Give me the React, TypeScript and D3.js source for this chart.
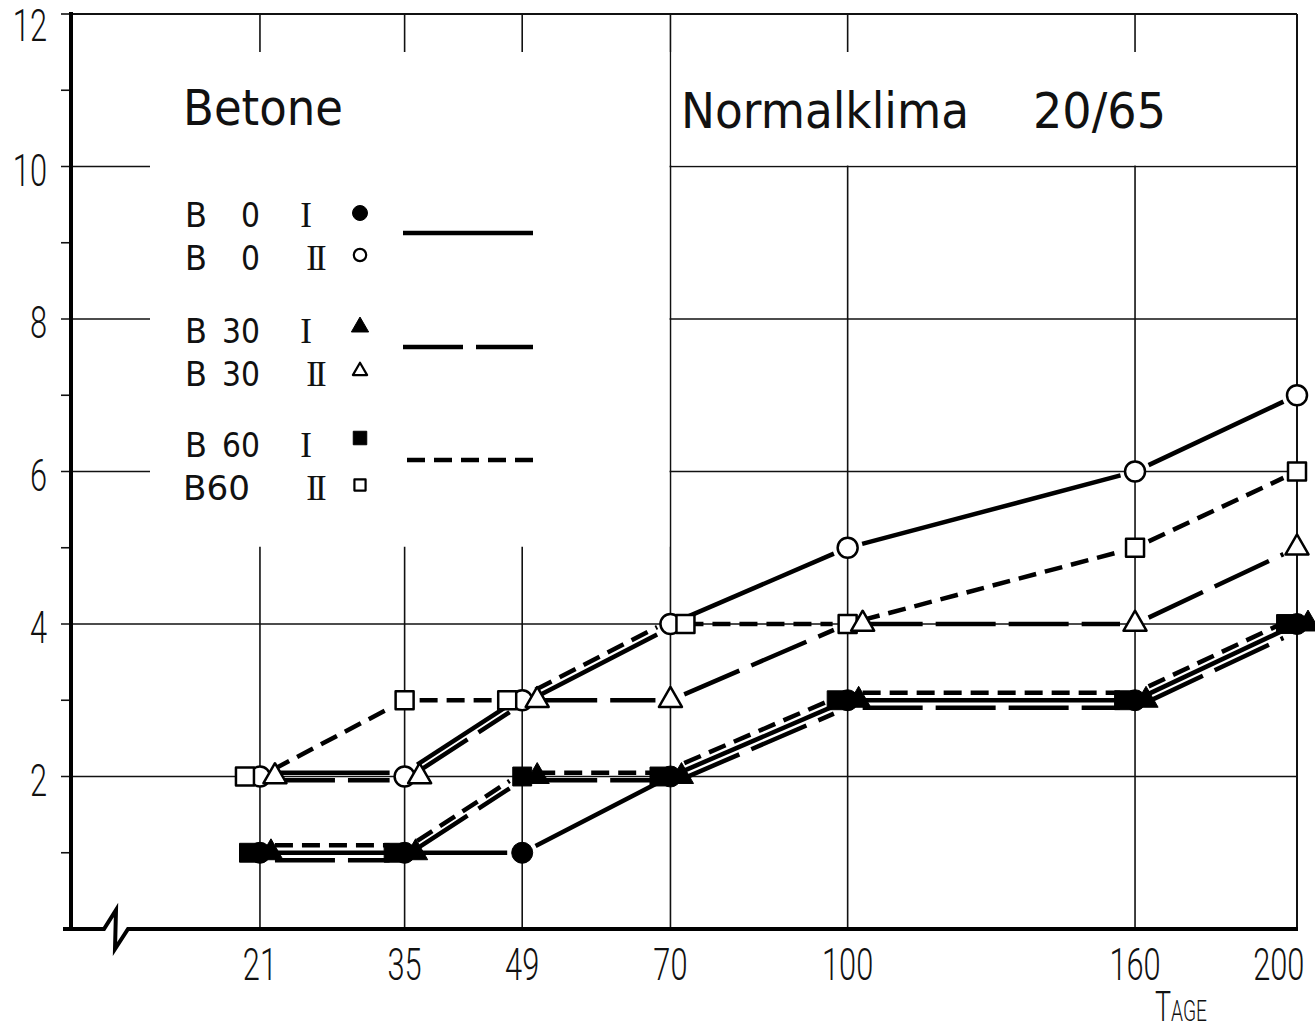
import React from 'react';
import * as d3 from 'd3';

// ---------- data ----------
const days = [21, 35, 49, 70, 100, 160, 200];
const b0I = [1, 1, 1, 2, 3, 3, 4];
const b0II = [2, 2, 3, 4, 5, 6, 7];
const b30I = [1, 1, 2, 2, 3, 3, 4];
const b30II = [2, 2, 3, 3, 4, 4, 5];
const b60I = [1, 1, 2, 2, 3, 3, 4];
const b60II = [2, 3, 3, 4, 4, 5, 6];
const yMajorTicks = [2, 4, 6, 8, 10, 12];
const yMinorTicks = [1, 3, 5, 7, 9, 11];
const legendNames = ['B 0', 'B 0', 'B 30', 'B 30', 'B 60', 'B60'];
const legendNumerals = ['I', 'II', 'I', 'II', 'I', 'II'];
const titleLeft = 'Betone';
const titleRight = 'Normalklima';
const titleRightCode = '20/65';
const xTitleFirst = 'T';
const xTitleRest = 'AGE';

type Kind = 'circle' | 'triangle' | 'square';
interface Series { values: number[]; kind: Kind; filled: boolean; dash: string; name: string; numeral: string; }

const DASH_SOLID = '';
const DASH_LONG = '60,13';
const DASH_SHORT = '18,9';

const series: Series[] = [
  { values: b0I, kind: 'circle', filled: true, dash: DASH_SOLID, name: legendNames[0], numeral: legendNumerals[0] },
  { values: b0II, kind: 'circle', filled: false, dash: DASH_SOLID, name: legendNames[1], numeral: legendNumerals[1] },
  { values: b30I, kind: 'triangle', filled: true, dash: DASH_LONG, name: legendNames[2], numeral: legendNumerals[2] },
  { values: b30II, kind: 'triangle', filled: false, dash: DASH_LONG, name: legendNames[3], numeral: legendNumerals[3] },
  { values: b60I, kind: 'square', filled: true, dash: DASH_SHORT, name: legendNames[4], numeral: legendNumerals[4] },
  { values: b60II, kind: 'square', filled: false, dash: DASH_SHORT, name: legendNames[5], numeral: legendNumerals[5] },
];

const symType = (k: Kind) => (k === 'circle' ? d3.symbolCircle : k === 'square' ? d3.symbolSquare : d3.symbolTriangle);

function symbolPath(k: Kind, scale: number) {
  const size = k === 'circle' ? Math.PI * 10 * 10 : k === 'square' ? 18 * 18 : (Math.sqrt(3) / 4) * 23 * 23;
  return d3.symbol().type(symType(k)).size(size * scale * scale)() as string;
}

const NUM_FONT = "Roboto, 'DejaVu Sans', sans-serif";
const TITLE_FONT = "'DejaVu Sans', sans-serif";
const NUM_SQUEEZE = 0.7;

export default function App() {
  React.useEffect(() => {
    document.body.style.margin = '0';
  }, []);

  const W = 1315;
  const H = 1032;
  const left = 71;
  const right = 1297;
  const top = 14;
  const bottom = 929;

  const x = d3.scalePow().exponent(0.5).domain([8.07, 200]).range([left, right]);
  const y = d3.scaleLinear().domain([0, 12]).range([bottom, top]);

  // ----- line segments with parallel offsets for overlapping segments -----
  const lineOrder: Kind[] = ['square', 'circle', 'triangle'];
  const segs: { d: string; dash: string; key: string }[] = [];
  const lineGen = d3.line<[number, number]>();
  for (let i = 0; i < days.length - 1; i++) {
    const groups = d3.group(series, (s) => `${s.values[i]}-${s.values[i + 1]}`);
    for (const [gk, members] of groups) {
      const sorted = members.slice().sort((a, b) => lineOrder.indexOf(a.kind) - lineOrder.indexOf(b.kind));
      sorted.forEach((s, k) => {
        const off = (k - (sorted.length - 1) / 2) * 7.5;
        const x1 = x(days[i]);
        const y1 = y(s.values[i]) + off;
        const x2 = x(days[i + 1]);
        const y2 = y(s.values[i + 1]) + off;
        const len = Math.hypot(x2 - x1, y2 - y1);
        const ux = (x2 - x1) / len;
        const uy = (y2 - y1) / len;
        const g = 15;
        const d = lineGen([
          [x1 + ux * g, y1 + uy * g],
          [x2 - ux * g, y2 - uy * g],
        ]) as string;
        segs.push({ d, dash: s.dash, key: `${i}-${gk}-${s.kind}-${s.filled}` });
      });
    }
  }

  // ----- markers with horizontal spreading for coinciding points -----
  const markers: { cx: number; cy: number; s: Series; key: string }[] = [];
  days.forEach((dd, i) => {
    const groups = d3.group(series, (s) => `${s.values[i]}-${s.filled}`);
    for (const [gk, members] of groups) {
      let sorted: Series[];
      let offs: number[];
      const spread = members[0].filled ? 11 : 15;
      if (members.length >= 3) {
        const ord: Kind[] = ['square', 'circle', 'triangle'];
        sorted = members.slice().sort((a, b) => ord.indexOf(a.kind) - ord.indexOf(b.kind));
        offs = sorted.map((_, k) => (k - (sorted.length - 1) / 2) * spread);
      } else {
        const ord: Kind[] = ['circle', 'square', 'triangle'];
        sorted = members.slice().sort((a, b) => ord.indexOf(a.kind) - ord.indexOf(b.kind));
        offs = sorted.map((_, k) => k * 15);
      }
      sorted.forEach((s, k) => {
        markers.push({ cx: x(dd) + offs[k], cy: y(s.values[i]), s, key: `${i}-${gk}-${s.kind}` });
      });
    }
  });
  const drawOrder: Kind[] = ['circle', 'square', 'triangle'];
  markers.sort((a, b) => drawOrder.indexOf(a.s.kind) - drawOrder.indexOf(b.s.kind));

  const x70 = x(70);
  const boxTop = 52;
  const leftBoxLeft = 150;
  const leftBoxBottom = y(5) - 1;
  const rightBoxBottom = y(10) - 1;

  const legendRowsY = [227, 270, 343, 386, 457, 500];
  const legendMarkerY = [213, 255, 327, 371, 438, 485];
  const legendLines = [
    { y: 233, x1: 403, x2: 533, dash: DASH_SOLID },
    { y: 347, x1: 403, x2: 533, dash: DASH_LONG },
    { y: 460, x1: 407, x2: 535, dash: DASH_SHORT },
  ];

  const axisPath = `M63,${bottom} L104,${bottom} L116,${bottom - 19} L115,${bottom + 20} L128,${bottom} L${right + 1},${bottom}`;

  return (
    <svg width={W} height={H} viewBox={`0 0 ${W} ${H}`} style={{ display: 'block', background: '#fff' }}>
      <rect x={0} y={0} width={W} height={H} fill="#fff" />

      {/* grid */}
      <g stroke="#111" strokeWidth={1.6}>
        {days.map((d) => (
          <line key={`vx${d}`} x1={x(d)} x2={x(d)} y1={top} y2={bottom} />
        ))}
        {yMajorTicks.filter((t) => t < 12).map((t) => (
          <line key={`hy${t}`} x1={61} x2={right} y1={y(t)} y2={y(t)} />
        ))}
        {yMinorTicks.map((t) => (
          <line key={`my${t}`} x1={61} x2={left} y1={y(t)} y2={y(t)} />
        ))}
        <line x1={61} x2={left} y1={y(12)} y2={y(12)} />
      </g>

      {/* white title / legend panels */}
      <rect x={leftBoxLeft} y={boxTop} width={x70 - 1 - leftBoxLeft} height={leftBoxBottom - boxTop} fill="#fff" />
      <rect x={x70 + 1} y={boxTop} width={right - 1 - (x70 + 1)} height={rightBoxBottom - boxTop} fill="#fff" />

      {/* frame */}
      <line x1={left} x2={right} y1={top} y2={top} stroke="#111" strokeWidth={2} />
      <line x1={right} x2={right} y1={top} y2={bottom} stroke="#111" strokeWidth={2} />
      <line x1={left} x2={left} y1={top - 2} y2={bottom + 2} stroke="#000" strokeWidth={4} />
      <path d={axisPath} fill="none" stroke="#000" strokeWidth={4} strokeLinejoin="miter" />

      {/* tick labels */}
      <g fontFamily={NUM_FONT} fontWeight={300} fontSize={44} fill="#111">
        {yMajorTicks.map((t) => (
          <g key={`yl${t}`} transform={`translate(47,${Math.max(y(t) + 19, 41)}) scale(${NUM_SQUEEZE},1)`}>
            <text x={0} y={0} textAnchor="end">{String(t)}</text>
          </g>
        ))}
        {days.map((d) => {
          const label = String(d);
          const w = 17.5 * label.length;
          return (
            <g key={`xl${d}`} transform={`translate(${Math.min(x(d), W - 10 - w / 2)},980) scale(${NUM_SQUEEZE},1)`}>
              <text x={0} y={0} textAnchor="middle">{label}</text>
            </g>
          );
        })}
      </g>
      <g transform="translate(1155,1021) scale(0.64,1)" fontFamily={NUM_FONT} fontWeight={300} fill="#111">
        <text x={0} y={0}>
          <tspan fontSize={42}>{xTitleFirst}</tspan>
          <tspan fontSize={30}>{xTitleRest}</tspan>
        </text>
      </g>

      {/* titles */}
      <g fontFamily={TITLE_FONT} fill="#111">
        <text x={183} y={125} fontSize={49} textLength={160} lengthAdjust="spacingAndGlyphs">{titleLeft}</text>
        <text x={681} y={128} fontSize={49} textLength={288} lengthAdjust="spacingAndGlyphs">{titleRight}</text>
        <text x={1033} y={128} fontSize={49} textLength={133} lengthAdjust="spacingAndGlyphs">{titleRightCode}</text>
      </g>

      {/* legend */}
      <g fill="#111">
        {series.map((s, i) => {
          const yy = legendRowsY[i];
          const parts = s.name.split(' ');
          return (
            <g key={`lg${i}`}>
              {parts.length > 1 ? (
                <>
                  <text x={185} y={yy} fontFamily={TITLE_FONT} fontSize={33} textLength={22} lengthAdjust="spacingAndGlyphs">{parts[0]}</text>
                  <text x={260} y={yy} fontFamily={TITLE_FONT} fontSize={33} textAnchor="end" textLength={19 * parts[1].length} lengthAdjust="spacingAndGlyphs">{parts[1]}</text>
                </>
              ) : (
                <text x={183} y={yy} fontFamily={TITLE_FONT} fontSize={33} textLength={67} lengthAdjust="spacingAndGlyphs">{s.name}</text>
              )}
              <text x={s.numeral === 'I' ? 306 : 315} y={yy} fontFamily="'Liberation Serif', 'DejaVu Serif', serif" fontSize={35} textAnchor="middle" letterSpacing={s.numeral === 'II' ? -3 : 0}>
                {s.numeral}
              </text>
              <path
                d={symbolPath(s.kind, s.filled ? 0.75 : 0.62)}
                transform={`translate(360,${legendMarkerY[i]})`}
                fill={s.filled ? '#000' : '#fff'}
                stroke="#000"
                strokeWidth={s.filled ? 1 : 2.2}
                strokeLinejoin="round"
              />
            </g>
          );
        })}
        {legendLines.map((l, i) => (
          <line key={`ll${i}`} x1={l.x1} x2={l.x2} y1={l.y} y2={l.y} stroke="#000" strokeWidth={4.5} strokeDasharray={l.dash || undefined} />
        ))}
      </g>

      {/* series lines */}
      <g fill="none" stroke="#000" strokeWidth={4.5}>
        {segs.map((s) => (
          <path key={s.key} d={s.d} strokeDasharray={s.dash || undefined} />
        ))}
      </g>

      {/* markers */}
      <g>
        {markers.map((m) => (
          <path
            key={m.key}
            d={symbolPath(m.s.kind, m.s.filled ? 1.05 : 1)}
            transform={`translate(${m.cx},${m.cy})`}
            fill={m.s.filled ? '#000' : '#fff'}
            stroke="#000"
            strokeWidth={m.s.filled ? 1 : 2.5}
            strokeLinejoin="round"
          />
        ))}
      </g>
    </svg>
  );
}
